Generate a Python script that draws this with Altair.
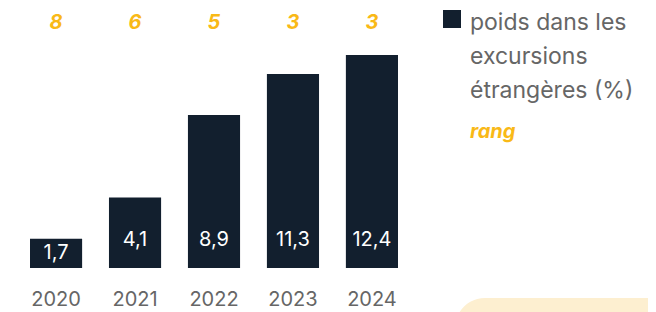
import altair as alt
import pandas as pd

years = ["2020", "2021", "2022", "2023", "2024"]
poids = [1.7, 4.1, 8.9, 11.3, 12.4]
poids_labels = ["1,7", "4,1", "8,9", "11,3", "12,4"]
rangs = ["8", "6", "5", "3", "3"]
legend_text = "poids dans les\nexcursions\nétrangères (%)"
rang_title = "rang"

NAVY = "#121f2e"
ORANGE = "#f9b917"
GREY = "#666666"
FONT = "Inter"

df = pd.DataFrame({"year": years, "poids": poids, "label": poids_labels, "rang": rangs})

x = alt.X("year:N", sort=years, axis=None,
          scale=alt.Scale(range=[22, 390], paddingInner=0.34, paddingOuter=0))
yscale = alt.Scale(domain=[0, 12.4], range=[260, 47])

base = alt.Chart(df)

bars = base.mark_bar(color=NAVY).encode(
    x=x,
    y=alt.Y("poids:Q", axis=None, scale=yscale),
)

vals = base.transform_calculate(
    ly="min(datum.poids / 2, 1.62)"
).mark_text(color="white", fontSize=20, font=FONT, baseline="middle").encode(
    x=x, y=alt.Y("ly:Q", axis=None, scale=yscale), text="label:N"
)

yrs = base.mark_text(color=GREY, fontSize=20, font=FONT, baseline="middle").encode(
    x=x, y=alt.value(292), text="year:N"
)

rk = base.mark_text(color=ORANGE, fontSize=20, font=FONT, fontStyle="italic",
                    fontWeight="bold", baseline="middle").encode(
    x=x, y=alt.value(15), text="rang:N"
)

one = alt.Chart(pd.DataFrame({"t": [legend_text], "r": [rang_title]}))

deco = one.mark_rect(color="#fdefd0", cornerRadius=30).encode(
    x=alt.value(447), x2=alt.value(720), y=alt.value(290), y2=alt.value(360)
)

sq = one.mark_rect(color=NAVY).encode(
    x=alt.value(435), x2=alt.value(453), y=alt.value(2), y2=alt.value(20)
)

leg = one.mark_text(color=GREY, fontSize=23, font=FONT, align="left",
                    baseline="middle", lineBreak="\n", lineHeight=34).encode(
    x=alt.value(462), y=alt.value(15), text="t:N"
)

rtxt = one.mark_text(color=ORANGE, fontSize=20, font=FONT, fontStyle="italic",
                     fontWeight="bold", align="left", baseline="middle").encode(
    x=alt.value(462), y=alt.value(124), text="r:N"
)

chart = alt.layer(deco, bars, vals, yrs, rk, sq, leg, rtxt).properties(
    width=640, height=304, padding=0, autosize=alt.AutoSizeParams(type="none")
).configure_view(stroke=None)

chart.save("out.html", embed_options={"renderer": "svg", "actions": False})
